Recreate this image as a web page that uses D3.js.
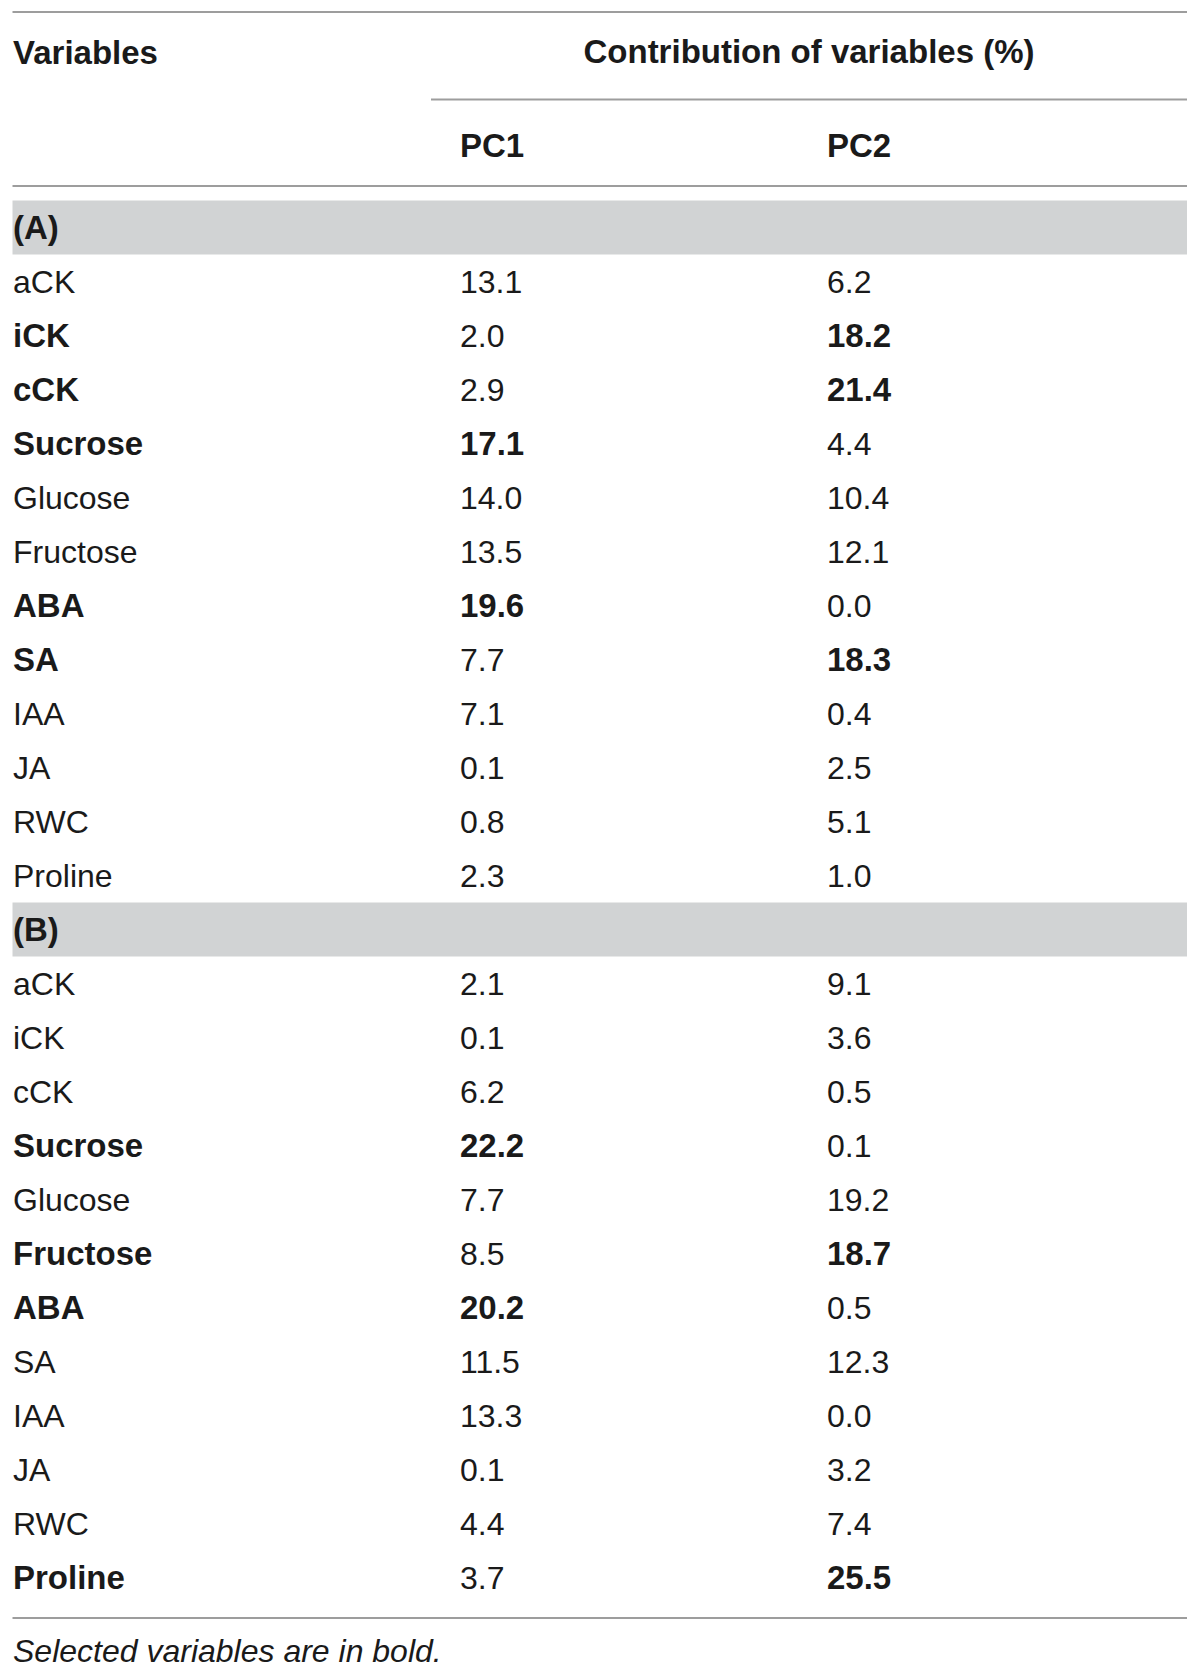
<!DOCTYPE html>
<html>
<head>
<meta charset="utf-8">
<script src="https://cdn.jsdelivr.net/npm/d3@7"></script>
<style>
  body { margin: 0; background: #fff; }
  text { font-family: "Liberation Sans", Arial, Helvetica, sans-serif; fill: #1a1a1a; }
</style>
</head>
<body>
<svg id="table"></svg>
<script>
// table contents
const headers = ["Variables", "Contribution of variables (%)", "PC1", "PC2"];
const groups = ["(A)", "(B)"];
const variables = ["aCK", "iCK", "cCK", "Sucrose", "Glucose", "Fructose", "ABA", "SA", "IAA", "JA", "RWC", "Proline"];

const pc1A = [13.1, 2.0, 2.9, 17.1, 14.0, 13.5, 19.6, 7.7, 7.1, 0.1, 0.8, 2.3];
const pc2A = [6.2, 18.2, 21.4, 4.4, 10.4, 12.1, 0.0, 18.3, 0.4, 2.5, 5.1, 1.0];
const pc1B = [2.1, 0.1, 6.2, 22.2, 7.7, 8.5, 20.2, 11.5, 13.3, 0.1, 4.4, 3.7];
const pc2B = [9.1, 3.6, 0.5, 0.1, 19.2, 18.7, 0.5, 12.3, 0.0, 3.2, 7.4, 25.5];

// which component a variable was selected for (shown in bold)
const selectedA = ["", "PC2", "PC2", "PC1", "", "", "PC1", "PC2", "", "", "", ""];
const selectedB = ["", "", "", "PC1", "", "PC2", "PC1", "", "", "", "", "PC2"];

const footnote = "Selected variables are in bold.";

const width = 1200, height = 1675;
const left = 12.5, right = 1187;
const fontSize = 32, boldSize = 33;

const svg = d3.select("#table")
    .attr("width", width)
    .attr("height", height);

// build one list of rows: group band followed by its variables
let rows = [];
[[pc1A, pc2A, selectedA], [pc1B, pc2B, selectedB]].forEach((g, gi) => {
    rows.push({type: "group", label: groups[gi]});
    variables.forEach((v, i) => {
        rows.push({type: "row", label: v, pc1: g[0][i], pc2: g[1][i], sel: g[2][i]});
    });
});

const y = d3.scaleBand()
    .domain(d3.range(rows.length))
    .range([200.5, 200.5 + rows.length * 54]);

const x = d3.scaleOrdinal()
    .domain(["label", "pc1", "pc2"])
    .range([13, 460, 827]);

// rules
const rules = [
    {y: 12, x1: left, x2: right},
    {y: 99.5, x1: 431, x2: right},
    {y: 186, x1: left, x2: right},
    {y: 1618, x1: left, x2: right}
];
svg.selectAll("line.rule")
    .data(rules)
    .join("line")
    .attr("class", "rule")
    .attr("x1", d => d.x1)
    .attr("x2", d => d.x2)
    .attr("y1", d => d.y)
    .attr("y2", d => d.y)
    .attr("stroke", "#9d9d9d")
    .attr("stroke-width", 2);

const bold = sel => sel.style("font-size", boldSize + "px").style("font-weight", "bold");

// header
svg.append("text")
    .attr("x", x("label"))
    .attr("y", 52)
    .attr("dy", "0.35em")
    .call(bold)
    .text(headers[0]);

svg.append("text")
    .attr("x", (431 + right) / 2)
    .attr("y", 51)
    .attr("dy", "0.35em")
    .attr("text-anchor", "middle")
    .call(bold)
    .text(headers[1]);

svg.selectAll("text.pc")
    .data(["pc1", "pc2"])
    .join("text")
    .attr("class", "pc")
    .attr("x", d => x(d))
    .attr("y", 145)
    .attr("dy", "0.35em")
    .call(bold)
    .text((d, i) => headers[2 + i]);

// grey group bands
svg.selectAll("rect.band")
    .data(rows.map((r, i) => ({r, i})).filter(d => d.r.type === "group"))
    .join("rect")
    .attr("class", "band")
    .attr("x", left)
    .attr("width", right - left)
    .attr("y", d => y(d.i))
    .attr("height", y.bandwidth())
    .attr("fill", "#d1d3d4");

const rowG = svg.selectAll("g.row")
    .data(rows)
    .join("g")
    .attr("class", "row")
    .attr("transform", (d, i) => `translate(0, ${y(i) + y.bandwidth() / 2})`);

const styleText = (sel, isBold) => sel
    .style("font-size", d => (isBold(d) ? boldSize : fontSize) + "px")
    .style("font-weight", d => isBold(d) ? "bold" : "normal");

rowG.append("text")
    .attr("x", x("label"))
    .attr("dy", "0.35em")
    .call(styleText, d => d.type === "group" || d.sel !== "")
    .text(d => d.label);

["pc1", "pc2"].forEach(k => {
    rowG.filter(d => d.type === "row")
        .append("text")
        .attr("x", x(k))
        .attr("dy", "0.35em")
        .call(styleText, d => d.sel === k.toUpperCase())
        .text(d => d3.format(".1f")(d[k]));
});

svg.append("text")
    .attr("x", x("label"))
    .attr("y", 1651)
    .attr("dy", "0.35em")
    .style("font-size", fontSize + "px")
    .style("font-style", "italic")
    .text(footnote);
</script>
</body>
</html>
